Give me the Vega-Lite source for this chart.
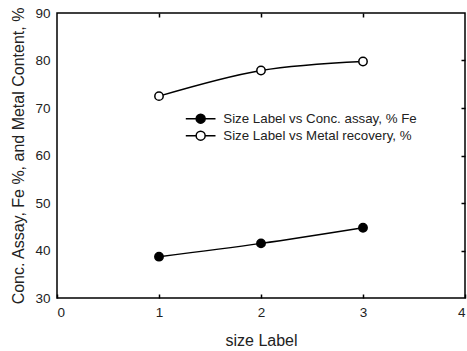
{
  "$schema": "https://vega.github.io/schema/vega-lite/v6.json",
  "width": 408,
  "height": 285,
  "autosize": "none",
  "padding": {"left": 57, "top": 13, "right": 2, "bottom": 53},
  "background": "white",
  "config": {
    "font": "Liberation Sans",
    "view": {"stroke": "black", "strokeWidth": 1.5},
    "axis": {
      "grid": false,
      "domain": false,
      "labelFont": "Liberation Sans",
      "labelFontSize": 13.5,
      "labelColor": "#222",
      "titleFont": "Liberation Sans",
      "titleFontSize": 16,
      "titleFontWeight": "normal",
      "titleColor": "#222",
      "tickColor": "black",
      "tickWidth": 1.5
    }
  },
  "data": {
    "values": [
      {"size": 1, "value": 38.7, "series": "Size Label vs Conc. assay, % Fe"},
      {"size": 2, "value": 41.5, "series": "Size Label vs Conc. assay, % Fe"},
      {"size": 3, "value": 44.8, "series": "Size Label vs Conc. assay, % Fe"},
      {"size": 1, "value": 72.5, "series": "Size Label vs Metal recovery, %"},
      {"size": 2, "value": 77.9, "series": "Size Label vs Metal recovery, %"},
      {"size": 3, "value": 79.8, "series": "Size Label vs Metal recovery, %"}
    ]
  },
  "layer": [
    {
      "mark": {"type": "line", "interpolate": "monotone", "color": "black", "strokeWidth": 1.5},
      "encoding": {
        "x": {
          "field": "size", "type": "quantitative",
          "scale": {"domain": [0, 4], "nice": false},
          "axis": {"orient": "bottom", "values": [0, 1, 2, 3, 4], "tickSize": -4, "labelPadding": 11, "title": "size Label", "titlePadding": 14}
        },
        "y": {
          "field": "value", "type": "quantitative",
          "scale": {"domain": [30, 90], "nice": false, "zero": false},
          "axis": {"orient": "left", "values": [30, 40, 50, 60, 70, 80, 90], "ticks": false, "labelPadding": 7, "title": "Conc. Assay, Fe %, and Metal Content, %", "titlePadding": 8}
        },
        "detail": {"field": "series"}
      }
    },
    {
      "mark": {"type": "point", "shape": "circle", "stroke": "black", "strokeWidth": 1.5, "size": 70, "opacity": 1},
      "encoding": {
        "x": {
          "field": "size", "type": "quantitative",
          "scale": {"domain": [0, 4], "nice": false},
          "axis": {"orient": "top", "values": [1, 2, 3], "labels": false, "tickSize": -4, "title": null}
        },
        "y": {
          "field": "value", "type": "quantitative",
          "scale": {"domain": [30, 90], "nice": false, "zero": false},
          "axis": {"orient": "right", "values": [40, 50, 60, 70, 80], "labels": false, "tickSize": -4, "title": null}
        },
        "fill": {
          "field": "series", "type": "nominal",
          "scale": {"domain": ["Size Label vs Conc. assay, % Fe", "Size Label vs Metal recovery, %"], "range": ["black", "white"]},
          "legend": {
            "orient": "none",
            "legendX": 137,
            "legendY": 99,
            "title": null,
            "padding": 0,
            "symbolType": "M-3.3,0L-1,0M1,0L3.3,0M-1,0A1,1,0,1,0,1,0A1,1,0,1,0,-1,0Z",
            "symbolSize": 81,
            "symbolStrokeColor": "black",
            "symbolStrokeWidth": 1.5,
            "symbolOpacity": 1,
            "labelFont": "Liberation Sans",
            "labelFontSize": 13.3,
            "labelColor": "#222",
            "labelLimit": 400,
            "labelOffset": 16,
            "rowPadding": 1
          }
        }
      }
    }
  ],
  "resolve": {"axis": {"x": "independent", "y": "independent"}}
}
